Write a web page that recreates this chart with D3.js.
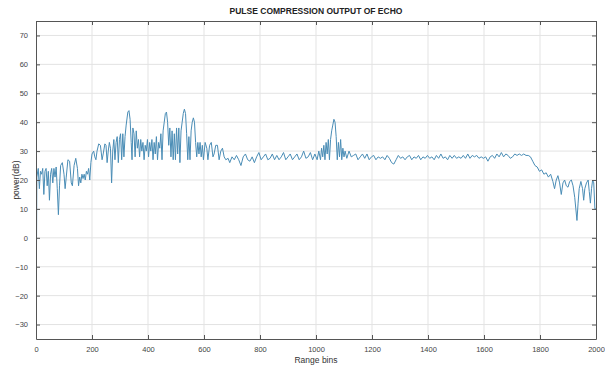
<!DOCTYPE html>
<html><head><meta charset="utf-8">
<script src="https://cdn.jsdelivr.net/npm/d3@7"></script>
<style>body{margin:0;background:#fff}svg{display:block}</style>
</head><body>
<svg id="c" width="605" height="368"></svg>
<script>
const title = "PULSE COMPRESSION OUTPUT OF ECHO";
const xLabel = "Range bins";
const yLabel = "power(dB)";
const xTicks = [0,200,400,600,800,1000,1200,1400,1600,1800,2000];
const yTicks = [-30,-20,-10,0,10,20,30,40,50,60,70];
const bins = [0,3,8,12,16,20,24,28,32,36,40,44,48,52,56,60,64,68,72,76,80,84,88,94,100,104,108,114,120,126,130,136,142,148,152,156,160,164,168,172,176,180,184,188,192,196,200,206,210,214,218,224,230,236,240,246,250,254,258,262,266,270,274,278,282,286,290,294,298,302,306,310,314,318,322,328,332,336,340,343,346,350,354,358,362,366,370,374,378,382,386,390,394,398,402,406,410,414,418,422,426,430,434,438,442,446,450,454,458,462,466,470,474,478,482,486,490,494,498,502,506,510,514,518,522,526,530,534,538,542,546,550,554,558,562,566,570,574,578,582,586,590,594,598,604,610,614,620,626,632,636,642,648,654,660,666,672,678,686,692,700,708,716,724,732,740,748,756,764,772,780,788,796,804,812,820,828,836,844,852,860,868,876,884,892,900,908,916,924,932,940,948,956,964,972,980,988,996,1004,1010,1016,1020,1024,1028,1032,1036,1040,1044,1048,1052,1056,1060,1064,1068,1072,1076,1080,1084,1088,1092,1096,1100,1104,1110,1118,1126,1134,1142,1150,1158,1166,1174,1182,1190,1198,1206,1214,1222,1230,1238,1246,1254,1262,1270,1278,1286,1294,1302,1310,1318,1326,1334,1342,1350,1358,1366,1374,1382,1390,1398,1406,1414,1422,1430,1438,1446,1454,1462,1470,1478,1486,1494,1502,1510,1518,1526,1534,1542,1550,1558,1566,1574,1582,1590,1598,1606,1614,1622,1630,1638,1646,1654,1662,1670,1678,1686,1694,1702,1710,1718,1726,1734,1742,1750,1758,1766,1774,1782,1790,1798,1806,1814,1822,1830,1838,1846,1852,1858,1864,1870,1876,1882,1888,1894,1900,1906,1912,1918,1924,1928,1932,1936,1940,1946,1952,1956,1960,1966,1972,1976,1980,1984,1988,1992,1996,2000];
const power = [-40,21,24,17,23,22,24,15,23,24,18,23,13,22,24,19,24,21,24.5,17,8,18,25,26,22,17,21,27,26.5,19,18,25,27.5,24,18,21,19,22,20.5,22,20,23,22,24,20,26,29,30,28,27,30,32.5,32,27,29,32.5,32,26,30,33,31,19,30,34,27,33,35,26,34,36,27,36,28,35,39,43.5,44,41,33,27,38,36,28,37,31,34,28,34,30,33,27,32,30,34,28,33,30,34,27,33,29,35,27,33,31,36,27,37,40,43,43.5,40,32,38,28,37,27,36,27,38,29,38,26,37,40,43,44.5,43,36,27,35,27,37,40,41.5,40,33,28,33,29,33,28,32,27,33,31,27,32,33,28,29,32,32,27,30,31,28,27,27.5,26,28,27,28.5,27,25,28,29,27,26.5,28,26,28,29.5,27,28,29,27,27.5,29,27,28.5,27,28,29.5,27,28,29,27,28,29,27,28,30,27.5,28,29.5,27,29,27,30,27,31,28,32,27,33,29,34,27,34,37,39,41,40,35,27,33,28,34,27,31,28,30,27.5,30,28,28.5,29,27,28,29,27.5,29,27,28,28.5,27,28,27.5,28,27,28.5,27.5,26,25.5,27,28.5,27.5,28,27,28,28.5,27,28,27.5,28.5,27,28,27.5,28.5,27.5,28,27,28.5,27.5,29,27.5,28,27,28.5,27.5,28.5,27.5,28,27.5,28.5,27.5,29,27.5,28.5,28,28.5,27.5,28,27.5,28,26.5,28,28.5,27.5,29,28,29.5,28,29,28.5,27.5,28,29,28.5,29,28.5,29,28.5,28.5,28,26.5,25,24.5,23,23.5,22,22.5,21,22,19.5,17,20,21.5,19,15,19,20,18,17.5,19.5,20,18,14,10,6,12,17,19.5,17,13,17,19,20,16,12,17,20,19,10,10];

const m = {left:36, right:596, top:21, bottom:339};
const svg = d3.select("#c");
const x = d3.scaleLinear().domain([0,2000]).range([m.left, m.right]);
const y = d3.scaleLinear().domain([-35,75]).range([m.bottom, m.top]);
const font = "'Liberation Sans', Arial, sans-serif";
const fmt = d3.format("d");

// grid
svg.append("g").selectAll("line").data(xTicks.slice(1,-1)).join("line")
  .attr("x1", d=>x(d)).attr("x2", d=>x(d)).attr("y1", m.top).attr("y2", m.bottom)
  .attr("stroke", "#e3e3e3").attr("stroke-width", 1);
svg.append("g").selectAll("line").data(yTicks).join("line")
  .attr("y1", d=>y(d)).attr("y2", d=>y(d)).attr("x1", m.left).attr("x2", m.right)
  .attr("stroke", "#e3e3e3").attr("stroke-width", 1);

// clip + line
svg.append("clipPath").attr("id","pc").append("rect")
  .attr("x", m.left).attr("y", m.top).attr("width", m.right-m.left).attr("height", m.bottom-m.top);
const data = bins.map((b,i)=>[b, power[i]]);
svg.append("path").datum(data).attr("clip-path","url(#pc)")
  .attr("fill","none").attr("stroke","#4a8db6").attr("stroke-width",1)
  .attr("stroke-linejoin","round")
  .attr("d", d3.line().x(d=>x(d[0])).y(d=>y(d[1])));

// axes
const axCol = "#555";
const gB = svg.append("g").attr("transform",`translate(0,${m.bottom})`)
  .call(d3.axisBottom(x).tickValues(xTicks).tickFormat(fmt).tickSizeInner(-4).tickSizeOuter(0).tickPadding(8));
const gT = svg.append("g").attr("transform",`translate(0,${m.top})`)
  .call(d3.axisTop(x).tickValues(xTicks).tickSizeInner(-4).tickSizeOuter(0).tickFormat(""));
const gL = svg.append("g").attr("transform",`translate(${m.left},0)`)
  .call(d3.axisLeft(y).tickValues(yTicks).tickFormat(fmt).tickSizeInner(-4).tickSizeOuter(0).tickPadding(8));
const gR = svg.append("g").attr("transform",`translate(${m.right},0)`)
  .call(d3.axisRight(y).tickValues(yTicks).tickSizeInner(-4).tickSizeOuter(0).tickFormat(""));
[gB,gT,gL,gR].forEach(g=>{
  g.select(".domain").attr("stroke", axCol);
  g.selectAll(".tick line").attr("stroke", axCol);
  g.selectAll("text").attr("fill","#444").style("font-family",font).style("font-size","7.5px");
});

svg.append("text").attr("x", (m.left+m.right)/2).attr("y", 14).attr("text-anchor","middle")
  .style("font-family",font).style("font-size","8.5px").style("font-weight","bold").attr("fill","#222")
  .text(title);
svg.append("text").attr("x", (m.left+m.right)/2).attr("y", 363).attr("text-anchor","middle")
  .style("font-family",font).style("font-size","8.5px").attr("fill","#333").text(xLabel);
svg.append("text").attr("transform",`translate(19,${(m.top+m.bottom)/2}) rotate(-90)`).attr("text-anchor","middle")
  .style("font-family",font).style("font-size","8.5px").attr("fill","#333").text(yLabel);
</script>
</body></html>
